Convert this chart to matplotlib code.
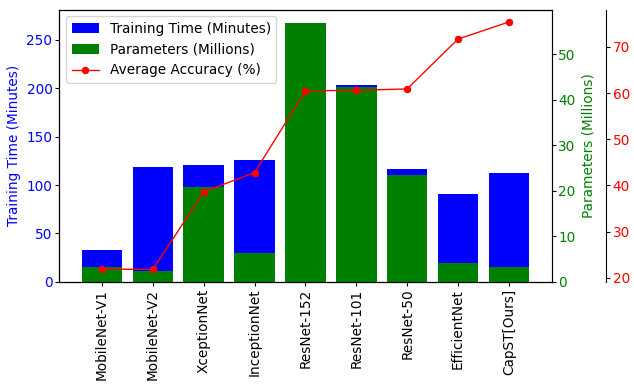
import matplotlib
matplotlib.use("Agg")
import matplotlib.pyplot as plt
import numpy as np

models = ["MobileNet-V1", "MobileNet-V2", "XceptionNet", "InceptionNet",
          "ResNet-152", "ResNet-101", "ResNet-50", "EfficientNet", "CapST[Ours]"]
training_time = [33, 119, 121, 126, 268, 203.5, 116.7, 91.2, 112.6]
parameters = [3.3, 2.4, 20.9, 6.4, 57.0, 42.8, 23.6, 4.2, 3.3]
accuracy = [21.9, 21.8, 38.6, 42.8, 60.5, 60.6, 60.9, 71.7, 75.4]

plt.rcParams.update({
    "xtick.major.size": 3, "xtick.major.pad": 2,
    "ytick.major.size": 3, "ytick.major.pad": 2,
})

DPI = 98
fig = plt.figure(figsize=(634 / DPI, 384 / DPI), dpi=DPI)
ax1 = fig.add_axes([0.0935, 0.266, 0.7765, 0.709])
x = np.arange(len(models))

b1 = ax1.bar(x, training_time, width=0.8, color="blue", label="Training Time (Minutes)")
ax1.set_ylabel("Training Time (Minutes)", color="blue")
ax1.tick_params(axis="y", labelcolor="blue")
ax1.set_xticks(x)
ax1.set_xticklabels(models, rotation=90)

ax2 = ax1.twinx()
b2 = ax2.bar(x, parameters, width=0.8, color="green", label="Parameters (Millions)")
ax2.set_ylabel("Parameters (Millions)", color="green")
ax2.tick_params(axis="y", labelcolor="green")

ax3 = ax1.twinx()
ax3.spines["right"].set_position(("outward", 40))
l3, = ax3.plot(x, accuracy, color="red", marker="o", markersize=4.5,
               linewidth=1, label="Average Accuracy (%)")
ax3.tick_params(axis="y", labelcolor="red")

ax3.legend([b1, b2, l3], [b1.get_label(), b2.get_label(), l3.get_label()],
           loc="upper left")

fig.savefig("out.png", dpi=DPI)
